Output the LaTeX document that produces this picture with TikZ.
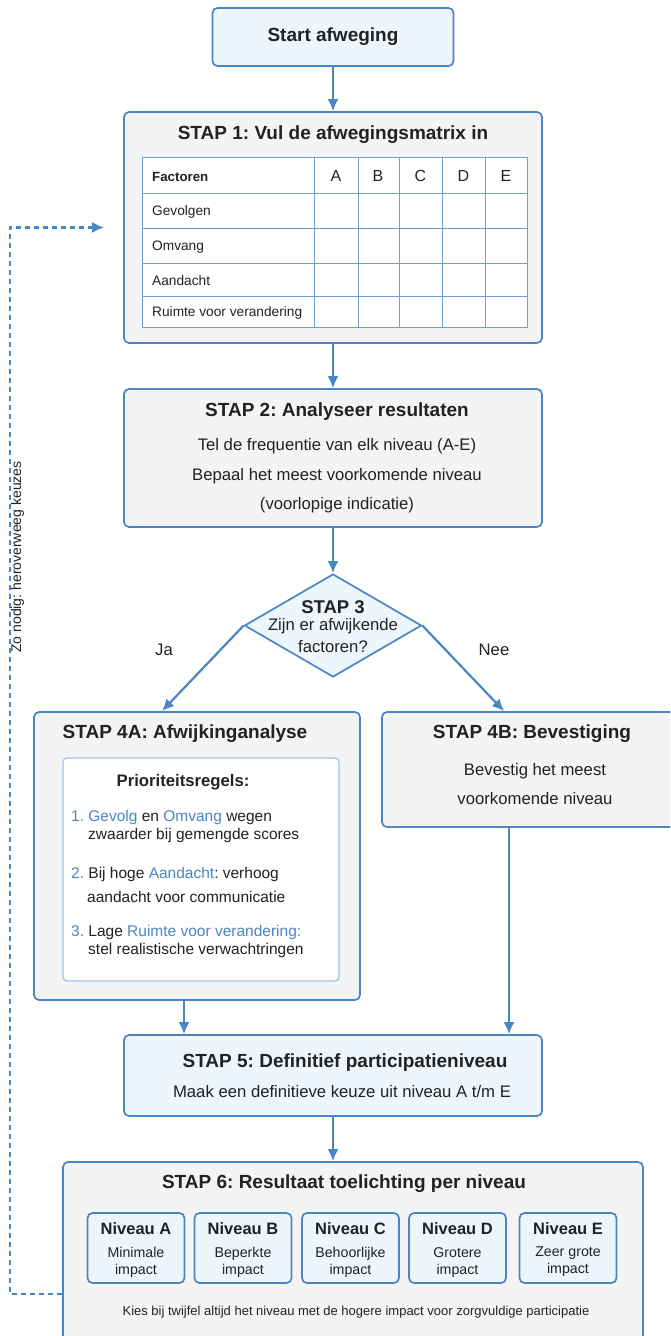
\documentclass[tikz,border=0pt]{standalone}
\usepackage{fontspec}
\setmainfont{Liberation Sans}
\usetikzlibrary{positioning, arrows.meta, shapes.geometric}

\definecolor{stapblue}{HTML}{4A86C6}
\definecolor{stapfill}{HTML}{EEF6FD}
\definecolor{stapgray}{HTML}{F4F4F4}
\definecolor{gridblue}{HTML}{6E9FD3}
\definecolor{ruleblue}{HTML}{A3C3E6}
\definecolor{ink}{HTML}{222222}
\newcommand{\blauw}[1]{\textcolor{stapblue}{#1}}
\frenchspacing

\begin{document}
\begin{tikzpicture}[x=1pt, y=-1pt, >={Latex[length=12pt, width=11pt]}, text=ink]
\tikzstyle{stap}=[draw=stapblue, line width=1.7pt, rounded corners=5pt, inner sep=0pt]
\tikzstyle{grijs}=[stap, fill=stapgray]
\tikzstyle{lichtblauw}=[stap, fill=stapfill]
\tikzstyle{titel}=[inner sep=0pt, font=\fontsize{19}{22}\selectfont\bfseries]
\tikzstyle{tekst}=[inner sep=0pt, align=center, font=\fontsize{16.7}{29.5}\selectfont]
\tikzstyle{regel}=[inner sep=0pt, anchor=west, font=\fontsize{15.5}{18}\selectfont]
\tikzstyle{cel}=[inner sep=0pt, font=\fontsize{13.7}{16}\selectfont]
\tikzstyle{pijl}=[->, draw=stapblue, line width=2.2pt]
\tikzstyle{terug}=[->, draw=stapblue, line width=2.2pt, dash pattern=on 5pt off 4pt]

\useasboundingbox (0,0) rectangle (670,1336);
\clip (0,0) rectangle (670,1336);

% boxes
\node[lichtblauw, titel, minimum width=241pt, minimum height=58pt] (start) at (333,37) {Start afweging};
\node[grijs, minimum width=418pt, minimum height=231pt] (stap1) at (333,227.5) {};
\node[grijs, minimum width=418pt, minimum height=138pt] (stap2) at (333,458) {};
\node[diamond, draw=stapblue, fill=stapfill, line width=1.7pt, inner sep=0pt,
      minimum width=177pt, minimum height=103pt] (stap3) at (333,625.5) {};
\node[grijs, minimum width=326pt, minimum height=288pt] (stap4a) at (197,856) {};
\node[grijs, minimum width=300pt, minimum height=115pt] (stap4b) at (532,769.5) {};
\node[lichtblauw, minimum width=418pt, minimum height=81pt] (stap5) at (333,1075.5) {};
\node[grijs, minimum width=580pt, minimum height=194pt] (stap6) at (353,1259) {};

% stap 1: matrix
\node[titel] (titel1) at (333,135) {STAP 1: Vul de afwegingsmatrix in};
\fill[white] (142,157) rectangle (527,327);
\foreach \x in {314,358,399,442,485}
  \draw[gridblue, line width=0.9pt] (\x,157) -- (\x,327);
\foreach \y in {193,228,263,296}
  \draw[gridblue, line width=0.9pt] (142,\y) -- (527,\y);
\draw[gridblue, line width=0.9pt] (142,157) rectangle (527,327);
\node[cel, anchor=west, font=\fontsize{13.3}{16}\selectfont\bfseries] (factoren) at (152,177) {Factoren};
\foreach \l/\x in {A/336, B/378, C/420.5, D/463.5, E/506}
  \node[cel, font=\fontsize{16}{18}\selectfont] (kol\l) at (\x,176) {\l};
\foreach \naam/\y [count=\i] in {Gevolgen/212, Omvang/247, Aandacht/281, Ruimte voor verandering/313}
  \node[cel, anchor=west] (rij\i) at (152,\y) {\naam};

% stap 2
\node[titel] (titel2) at (337,412) {STAP 2: Analyseer resultaten};
\node[tekst] (tekst2) at (337,476) {Tel de frequentie van elk niveau (A-E)\\Bepaal het meest voorkomende niveau\\(voorlopige indicatie)};

% stap 3
\node[titel, font=\fontsize{18.5}{22}\selectfont\bfseries] (titel3) at (333,607) {STAP 3};
\node[tekst, font=\fontsize{16.7}{22}\selectfont] (tekst3) at (333,636) {Zijn er afwijkende\\factoren?};
\node[tekst] (ja) at (164,650) {Ja};
\node[tekst] (nee) at (494,650) {Nee};

% stap 4a
\node[titel] (titel4a) at (185,734) {STAP 4A: Afwijkinganalyse};
\node[draw=ruleblue, line width=1.3pt, rounded corners=4pt, fill=white,
      minimum width=276pt, minimum height=223pt] (regels) at (201,869.5) {};
\node[titel, font=\fontsize{16.7}{20}\selectfont\bfseries] (regelkop) at (183,782) {Prioriteitsregels:};
\node[regel] (regel1a) at (71,817) {\blauw{1. Gevolg} en \blauw{Omvang} wegen};
\node[regel] (regel1b) at (88,835) {zwaarder bij gemengde scores};
\node[regel] (regel2a) at (71,874) {\blauw{2.} Bij hoge \blauw{Aandacht}: verhoog};
\node[regel] (regel2b) at (87,897) {aandacht voor communicatie};
\node[regel] (regel3a) at (71,932) {\blauw{3.} Lage \blauw{Ruimte voor verandering:}};
\node[regel] (regel3b) at (88,950) {stel realistische verwachtringen};

% stap 4b
\node[titel] (titel4b) at (532,734) {STAP 4B: Bevestiging};
\node[tekst, font=\fontsize{16.7}{29}\selectfont] (tekst4b) at (535,784.5) {Bevestig het meest\\voorkomende niveau};

% stap 5
\node[titel] (titel5) at (345,1063) {STAP 5: Definitief participatieniveau};
\node[tekst] (tekst5) at (342,1092) {Maak een definitieve keuze uit niveau A t/m E};

% stap 6
\node[titel] (titel6) at (344,1184) {STAP 6: Resultaat toelichting per niveau};
\foreach \n/\x/\a in {A/136/Minimale, B/243/Beperkte, C/350.5/Behoorlijke, D/457.5/Grotere, E/568/Zeer grote} {
  \node[lichtblauw, minimum width=97pt, minimum height=70pt] (niveau\n) at (\x,1248) {};
  \node[titel, font=\fontsize{16.5}{20}\selectfont\bfseries] (kop\n) at (\x,1229) {Niveau \n};
  \node[tekst, font=\fontsize{14.2}{17}\selectfont] (oms\n) at (\x,1262) {\a\\impact};
}
\node[cel, font=\fontsize{13}{15}\selectfont] (twijfel) at (356,1312) {Kies bij twijfel altijd het niveau met de hogere impact voor zorgvuldige participatie};

% connectors
\draw[pijl] (start) -- (stap1);
\draw[pijl] (stap1) -- (stap2);
\draw[pijl] (stap2) -- (stap3);
\draw[pijl] (stap3.west) -- ([xshift=-35pt]stap4a.north);
\draw[pijl] (stap3.east) -- ([xshift=-28pt]stap4b.north);
\draw[pijl] ([xshift=-13pt]stap4a.south) -- ([xshift=-149pt]stap5.north);
\draw[pijl] ([xshift=-23pt]stap4b.south) -- ([xshift=176pt]stap5.north);
\draw[pijl] (stap5) -- (stap5 |- stap6.north);

% terugkoppeling
\draw[terug] ([yshift=-35pt]stap6.west) -| (10,740) |- ([xshift=-19pt]stap1.west);
\node[cel, font=\fontsize{14}{16}\selectfont, rotate=90] (terugtxt) at (17.5,557) {Zo nodig: heroverweeg keuzes};

\end{tikzpicture}
\end{document}
